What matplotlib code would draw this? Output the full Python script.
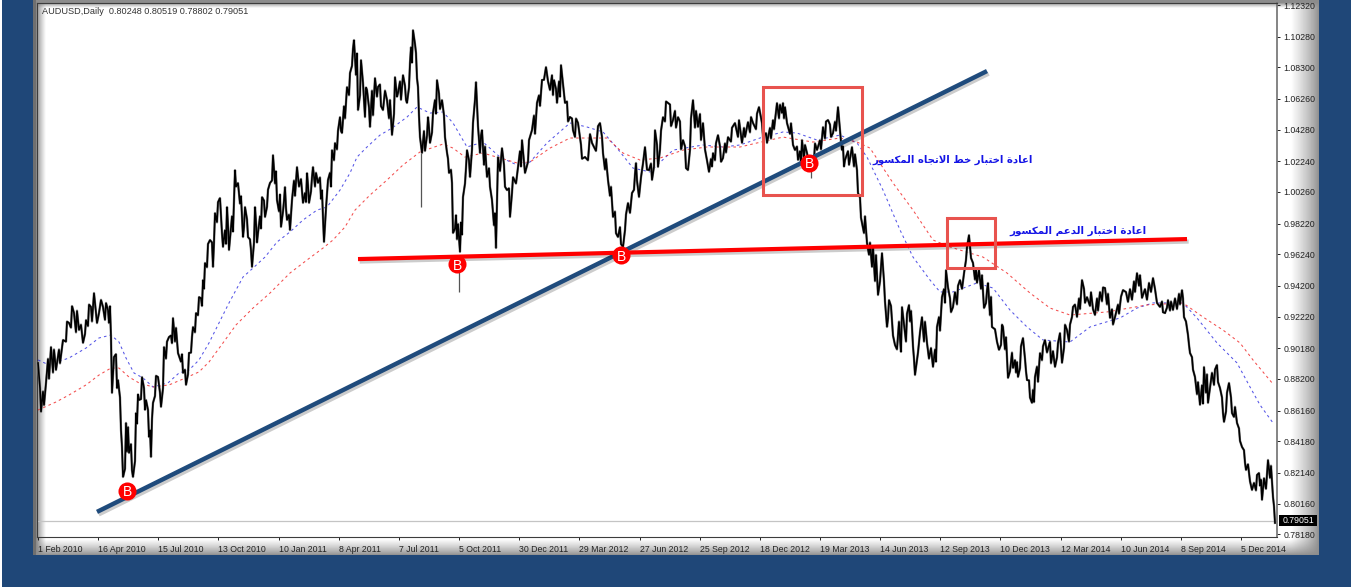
import matplotlib
matplotlib.use("Agg")

import matplotlib.patheffects as pe
import matplotlib.pyplot as plt
import numpy as np
from matplotlib.patches import Rectangle

# price path (bar number, price)
pivot_bar = [38, 41, 46, 51, 56, 63, 69, 74, 79, 83, 86, 91, 94, 99, 103, 108, 111, 112, 114, 118, 121, 123, 126, 129, 133, 136, 139, 142, 146, 149, 151, 153, 158, 161, 164, 169, 173, 178, 183, 186, 189, 193, 196, 199,
             203, 205, 210, 213, 215, 220, 223, 227, 229, 235, 238, 243, 245, 248, 252, 255, 258, 262, 265, 270, 273, 277, 281, 285, 287, 292, 297, 303, 307, 309, 313, 318, 322, 324, 328, 332, 335, 340, 342, 347, 350, 354, 358, 361, 365, 367, 370, 375, 378, 383, 387, 392, 395, 398, 403, 407, 410, 413, 416, 418, 420, 422,
             428, 430, 433, 437, 442, 445, 449, 452, 453, 456, 460, 463, 467, 470, 473, 476, 480, 482, 487, 492, 496, 498, 502, 507, 510, 513, 518, 522, 525, 532, 537, 542, 546, 550, 554, 557, 561, 565, 570, 573, 578, 585, 592, 600, 603, 608, 613, 618, 623, 628, 632, 636, 639, 645, 649,
             652, 655, 658, 663, 668, 673, 678, 683, 688, 693, 698, 703, 709, 713, 718, 723, 728, 735, 742, 748, 753, 759, 766, 767, 777, 782, 785, 787, 795, 798, 802, 807, 811, 817, 823, 828, 833, 838, 842, 845, 852, 857, 858, 862, 867, 872, 873, 878,
             882, 887, 889, 895, 901, 902, 909, 912, 915, 922, 927, 933, 937, 942, 946, 953, 960, 966, 969, 973, 977, 979, 984, 988, 992, 999, 1003, 1008, 1015, 1018, 1023, 1027, 1032, 1035, 1040, 1045, 1055, 1060, 1062, 1067,
             1073, 1077, 1082, 1087, 1095, 1100, 1105, 1110, 1115, 1123, 1128, 1137, 1142, 1153, 1160, 1165, 1168, 1173, 1182, 1184, 1188, 1190, 1195, 1200, 1204, 1208, 1217, 1220, 1224, 1229, 1234, 1237, 1242, 1246, 1252, 1259, 1262, 1268, 1273, 1275]
pivot_val = [.8923, .8607, .8794, .9026, .8877, .9071, .9181, .9245, .9135, .9052, .9200, .9284, .9374, .9245, .9284, .9264, .9090, .8729, .8961, .8813, .8490, .8187, .8536, .8342, .8187, .8600, .8684, .8832, .8684, .8445, .8316, .8665, .8832, .8639, .9026, .9090, .9213, .8987, .8858, .8781, .8987, .9155, .9245, .9348,
             .9458, .9568, .9716, .9542, .9890, .9987, .9671, .9929, .9651, 1.0167, 1.0084, .9735, .9929, .9735, .9542, .9929, .9761, .9993, .9864, 1.0084, 1.0264, .9974, .9800, 1.0058, .9845, .9974, 1.0187, .9955, 1.0148, .9955, 1.0187, 1.0084, 1.0038, .9703, 1.0103, 1.0296, 1.0342, 1.0509, 1.0406, 1.0703, 1.0793, 1.1006, 1.0554, 1.0877, 1.0509, 1.0683, 1.0445, 1.0761, 1.0703, 1.0554, 1.0619, 1.0393, 1.0767, 1.0664, 1.0780, 1.0600, 1.0858, 1.1070, 1.0922, 1.0703, 1.0380, 1.0277,
             1.0509, 1.0342, 1.0535, 1.0748, 1.0619, 1.0380, 1.0148, 1.0084, .9761, .9877, .9639, .9993, 1.0296, 1.0122, 1.0471, 1.0735, 1.0277, 1.0425, 1.0122, .9974, .9664, 1.0251, 1.0309, 1.0038, .9864, 1.0122, 1.0187, 1.0361, 1.0148, 1.0425, 1.0600, 1.0748, 1.0832, 1.0683, 1.0748, 1.0600, 1.0845, 1.0600, 1.0509, 1.0425, 1.0471, 1.0251, 1.0342, 1.0471, 1.0277, 1.0103, .9864, .9735, .9671, .9955, 1.0019, 1.0213, .9993, 1.0316, 1.0167,
             1.0103, 1.0425, 1.0187, 1.0509, 1.0600, 1.0490, 1.0509, 1.0361, 1.0167, 1.0619, 1.0445, 1.0471, 1.0155, 1.0277, 1.0393, 1.0245, 1.0380, 1.0471, 1.0342, 1.0477, 1.0471, 1.0574, 1.0406, 1.0342, 1.0600, 1.0535, 1.0574, 1.0471, 1.0296, 1.0232, 1.0361, 1.0277, 1.0232, 1.0296, 1.0445, 1.0490, 1.0406, 1.0574, 1.0296, 1.0232, 1.0316, 1.0167, 1.0019, .9826, .9697, .9542, .9671, .9361,
             .9632, .9155, .9329, .9039, .8994, .9284, .9297, .9155, .8845, .9219, .9052, .8897, .9155, .9348, .9522, .9284, .9458, .9587, .9748, .9568, .9439, .9522, .9277, .9439, .9155, .9007, .9155, .8826, .8942, .8832, .9084, .8813, .8665, .8832, .8987, .9071, .8897, .9116, .8923, .9135,
             .9284, .9219, .9458, .9348, .9232, .9381, .9406, .9213, .9219, .9393, .9316, .9503, .9342, .9471, .9284, .9245, .9329, .9264, .9393, .9219, .9103, .8987, .8832, .8652, .8897, .8665, .8910, .8761, .8542, .8794, .8574, .8536, .8381, .8232, .8103, .8213, .8039, .8297, .8058, .7891]

# smaller swings between the pivots
swing_bar = [40, 43, 44, 48, 49, 53, 54, 59, 60, 66, 67, 71, 72, 76, 77, 81, 85, 88, 89, 92, 97, 101, 105, 106, 109, 110, 116, 117, 120, 122, 125, 127, 128, 131, 132, 135, 137, 138, 141, 144, 145, 148, 150, 152, 155, 156, 160, 163, 166, 167, 171, 172, 175, 176, 181, 182, 185, 188, 191, 192, 195, 198, 201, 202,
             204, 207, 208, 212, 214, 217, 218, 222, 225, 226, 228, 232, 233, 236, 240, 241, 244, 247, 250, 251, 254, 256, 257, 260, 261, 264, 267, 268, 272, 275, 276, 279, 280, 283, 284, 286, 289, 290, 294, 295, 299, 301, 305, 306, 308, 311, 312, 315, 316, 320, 321, 323, 326, 330, 331, 334, 337, 338, 341, 344, 345, 349, 352, 353, 356, 357, 360, 363, 364, 366, 369, 372, 373, 377, 380, 381, 385, 389, 390, 394, 397, 400, 401, 405, 406, 409, 411, 412, 415, 417, 419,
             424, 425, 427, 429, 432, 435, 436, 439, 440, 444, 447, 448, 451, 455, 457, 458, 461, 462, 465, 466, 469, 472, 475, 478, 481, 484, 485, 489, 490, 494, 495, 497, 500, 504, 505, 509, 512, 516, 520, 521, 524, 528, 529, 534, 535, 539, 540, 544, 548, 552, 553, 556, 559, 560, 563, 567, 568, 572, 575, 576, 581, 582, 588, 590, 596, 598, 602, 605, 606, 610, 611, 615, 616, 620, 621, 625, 626, 630, 634, 635, 637, 641, 643, 647,
             651, 654, 657, 660, 661, 665, 666, 670, 671, 675, 676, 680, 681, 685, 686, 690, 691, 695, 696, 700, 701, 705, 707, 711, 712, 715, 716, 720, 721, 725, 726, 731, 732, 738, 739, 744, 745, 750, 751, 756, 757, 762, 763, 770, 771, 773, 774, 779, 780, 783, 784, 786, 790, 791, 793, 797, 800, 801, 804, 805, 809, 814, 815, 820, 821, 825, 826, 830, 831, 835, 836, 840, 841, 843, 844, 848, 849, 854, 855, 860, 861, 864, 865, 869, 870, 875, 876,
             880, 884, 885, 888, 891, 893, 897, 899, 900, 904, 906, 907, 910, 911, 913, 914, 918, 920, 924, 925, 929, 931, 935, 936, 939, 940, 944, 945, 948, 950, 951, 955, 957, 958, 962, 964, 967, 971, 975, 976, 981, 982, 986, 987, 990, 991, 995, 997, 1001, 1002, 1005, 1006, 1010, 1012, 1013, 1016, 1017, 1020, 1021, 1025, 1026, 1029, 1030, 1033, 1034, 1037, 1038, 1042, 1043, 1047, 1050, 1051, 1053, 1057, 1058, 1061, 1064, 1065, 1069, 1070, 1072, 1075,
             1079, 1080, 1084, 1085, 1090, 1091, 1093, 1097, 1098, 1102, 1103, 1107, 1108, 1112, 1113, 1118, 1119, 1121, 1126, 1130, 1132, 1134, 1135, 1139, 1140, 1145, 1147, 1149, 1151, 1155, 1157, 1162, 1163, 1167, 1170, 1171, 1175, 1177, 1179, 1180, 1183, 1186, 1189, 1192, 1193, 1197, 1198, 1202, 1203, 1206, 1207, 1210, 1212, 1214, 1215, 1218, 1222, 1223, 1226, 1227, 1231, 1232, 1235, 1239, 1240, 1244, 1245, 1248, 1250, 1254, 1256, 1257, 1260, 1261, 1264, 1266, 1270, 1271, 1274]
swing_val = [.8760, .8740, .8650, .8950, .8820, .8860, .9010, .9010, .8920, .9060, .9190, .9150, .9290, .9120, .9260, .9170, .9110, .9160, .9300, .9190, .9180, .9330, .9200, .9310, .9180, .9290, .8980, .8760, .8700, .8380, .8240, .8350, .8510, .8400, .8230, .8290, .8530, .8720, .8690, .8760, .8620, .8620, .8490, .8560, .8710, .8840, .8730, .8760, .8950, .9060, .9100, .9050, .9060, .9150, .8930, .8980, .8880, .8850, .8990, .9090, .9120, .9230, .9340, .9290,
             .9400, .9540, .9690, .9700, .9700, .9830, .9960, .9760, .9780, .9690, .9810, .9870, .9770, 1.0060, .9950, 1.0000, .9800, .9850, .9720, .9650, .9700, .9830, .9700, .9870, .9790, .9970, .9930, 1.0040, 1.0100, 1.0080, 1.0160, .9900, 1.0010, .9900, .9970, .9920, .9880, .9780, 1.0100, 1.0000, 1.0060, 1.0110, 1.0020, .9960, 1.0070, 1.0030, 1.0120, 1.0060, 1.0150, 1.0120, .9980, .9860, .9920, 1.0150, 1.0060, 1.0230, 1.0300, 1.0420, 1.0420, 1.0580, 1.0500, 1.0650, 1.0840, 1.0950, 1.0780, 1.0920, 1.0650, 1.0730, 1.0620, 1.0700, 1.0570, 1.0680, 1.0520, 1.0640, 1.0720, 1.0580, 1.0680, 1.0500, 1.0620, 1.0530, 1.0640, 1.0740, 1.0620, 1.0710, 1.0620, 1.0700, 1.0960, 1.0860, 1.0980, 1.0760, 1.0520,
             1.0420, 1.0290, 1.0390, 1.0440, 1.0410, 1.0620, 1.0530, 1.0660, 1.0560, 1.0520, 1.0280, 1.0240, 1.0170, .9790, .9720, .9820, .9830, .9750, 1.0080, 1.0180, 1.0230, 1.0300, 1.0620, 1.0450, 1.0390, 1.0200, 1.0320, 1.0180, 1.0060, .9810, .9890, .9960, 1.0160, 1.0200, 1.0060, 1.0050, 1.0020, 1.0080, 1.0290, 1.0190, 1.0220, 1.0220, 1.0360, 1.0520, 1.0400, 1.0650, 1.0580, 1.0750, 1.0740, 1.0780, 1.0650, 1.0690, 1.0740, 1.0640, 1.0720, 1.0610, 1.0480, 1.0500, 1.0380, 1.0500, 1.0330, 1.0240, 1.0230, 1.0400, 1.0290, 1.0450, 1.0380, 1.0170, 1.0240, 1.0000, 1.0060, .9900, .9760, .9800, .9690, .9780, .9880, .9890, 1.0040, 1.0140, 1.0100, 1.0120, 1.0210, 1.0170,
             1.0210, 1.0190, 1.0330, 1.0300, 1.0420, 1.0480, 1.0610, 1.0590, 1.0450, 1.0550, 1.0440, 1.0480, 1.0300, 1.0320, 1.0180, 1.0300, 1.0500, 1.0440, 1.0550, 1.0530, 1.0360, 1.0300, 1.0230, 1.0240, 1.0190, 1.0230, 1.0340, 1.0320, 1.0220, 1.0340, 1.0280, 1.0350, 1.0440, 1.0380, 1.0490, 1.0440, 1.0380, 1.0410, 1.0510, 1.0430, 1.0530, 1.0470, 1.0380, 1.0440, 1.0370, 1.0490, 1.0430, 1.0500, 1.0590, 1.0600, 1.0500, 1.0520, 1.0400, 1.0470, 1.0330, 1.0320, 1.0290, 1.0210, 1.0240, 1.0330, 1.0210, 1.0230, 1.0340, 1.0360, 1.0300, 1.0370, 1.0480, 1.0460, 1.0380, 1.0480, 1.0420, 1.0420, 1.0350, 1.0320, 1.0190, 1.0290, 1.0200, 1.0190, 1.0270, .9990, .9860, .9760, .9870, .9620, .9700, .9450, .9620,
             .9450, .9450, .9320, .9210, .9290, .9100, .9010, .9190, .9080, .9170, .9060, .9240, .9190, .9260, .9030, .8950, .8990, .9120, .9060, .9190, .8950, .9020, .9010, .8930, .9220, .9130, .9400, .9310, .9410, .9340, .9250, .9380, .9300, .9420, .9400, .9500, .9670, .9600, .9460, .9530, .9400, .9490, .9310, .9390, .9230, .9350, .9140, .9060, .9040, .9170, .9010, .9090, .8870, .8990, .8890, .8860, .8930, .8890, .9030, .8950, .8870, .8810, .8700, .8750, .8670, .8900, .8800, .8940, .9030, .8990, .9060, .8920, .9000, .8960, .9050, .9020, .9020, .9170, .9060, .9170, .9220, .9300,
             .9340, .9270, .9400, .9310, .9290, .9380, .9270, .9340, .9260, .9320, .9410, .9300, .9370, .9270, .9170, .9300, .9240, .9350, .9380, .9400, .9330, .9450, .9380, .9420, .9490, .9400, .9330, .9440, .9380, .9400, .9310, .9320, .9250, .9280, .9260, .9320, .9340, .9270, .9370, .9300, .9340, .9190, .9040, .8960, .8880, .8720, .8800, .8780, .8660, .8730, .8850, .8760, .8860, .8780, .8880, .8800, .8700, .8600, .8610, .8730, .8700, .8600, .8640, .8500, .8420, .8360, .8280, .8270, .8160, .8150, .8100, .8200, .8130, .8170, .8180, .8110, .8180, .8260, .8000]

# long wicks that stick out of the path
wick_bar = [421, 459, 811]
wick_high = [1.0277, .9587, 1.0264]
wick_low = [.9929, .9381, 1.0116]

# moving averages
fast_bar = [38, 49, 69, 86, 99, 111, 119, 126, 134, 143, 153, 168, 179, 189, 199, 209, 219, 229, 243, 253, 265, 277, 290, 303, 317, 327, 340, 350, 357, 367, 380, 392, 407, 417, 430, 443, 453, 467, 483, 500, 517, 530, 547, 570, 587, 603, 617, 633, 650, 673, 703, 723, 740, 760, 783, 797, 817, 840, 857, 867, 883, 900, 913, 930, 940, 953, 977, 993, 1010, 1027, 1043, 1070, 1090, 1103, 1120, 1137, 1153, 1183, 1197, 1217, 1237, 1250, 1260, 1273]
fast_val = [.8942, .8910, .8955, .9019, .9084, .9103, .9058, .8955, .8858, .8826, .8768, .8794, .8858, .8877, .8942, .9052, .9181, .9310, .9477, .9535, .9606, .9703, .9768, .9845, .9909, .9929, 1.0038, 1.0148, 1.0251, 1.0316, 1.0393, 1.0438, 1.0509, 1.0574, 1.0535, 1.0542, 1.0471, 1.0316, 1.0348, 1.0251, 1.0200, 1.0219, 1.0342, 1.0471, 1.0445, 1.0413, 1.0309, 1.0180, 1.0155, 1.0296, 1.0329, 1.0316, 1.0329, 1.0374, 1.0413, 1.0406, 1.0361, 1.0393, 1.0342, 1.0251, 1.0038, .9781, .9606, .9458, .9381, .9381, .9439, .9406, .9264, .9155, .9071, .9058, .9155, .9181, .9213, .9277, .9310, .9310, .9213, .9052, .8923, .8768, .8652, .8536]
slow_bar = [38, 56, 69, 86, 99, 111, 119, 129, 139, 153, 169, 183, 199, 209, 223, 236, 253, 270, 290, 307, 323, 333, 345, 355, 370, 387, 403, 420, 443, 453, 465, 483, 500, 517, 530, 550, 570, 590, 607, 623, 640, 660, 683, 707, 740, 757, 783, 813, 840, 857, 870, 893, 913, 933, 950, 983, 1007, 1030, 1050, 1070, 1107, 1147, 1183, 1203, 1223, 1240, 1253, 1273]
slow_val = [.8619, .8671, .8716, .8781, .8845, .8890, .8890, .8832, .8794, .8768, .8781, .8819, .8865, .8929, .9052, .9168, .9277, .9374, .9503, .9587, .9664, .9716, .9800, .9909, 1.0006, 1.0103, 1.0200, 1.0284, 1.0335, 1.0309, 1.0251, 1.0277, 1.0245, 1.0213, 1.0219, 1.0309, 1.0374, 1.0374, 1.0374, 1.0277, 1.0232, 1.0245, 1.0296, 1.0316, 1.0316, 1.0342, 1.0380, 1.0348, 1.0374, 1.0348, 1.0309, 1.0084, .9909, .9716, .9671, .9606, .9503, .9374, .9277, .9232, .9252, .9297, .9310, .9219, .9135, .9052, .8942, .8787]

# axis labels
date_bars = [38, 98, 158, 218, 279, 339, 399, 459, 519, 579, 640, 700, 760, 820, 880, 940, 1000, 1061, 1121, 1181, 1241]
date_labels = ["1 Feb 2010", "16 Apr 2010", "15 Jul 2010", "13 Oct 2010", "10 Jan 2011", "8 Apr 2011", "7 Jul 2011", "5 Oct 2011", "30 Dec 2011", "29 Mar 2012", "27 Jun 2012", "25 Sep 2012", "18 Dec 2012", "19 Mar 2013", "14 Jun 2013", "12 Sep 2013", "10 Dec 2013", "12 Mar 2014", "10 Jun 2014", "8 Sep 2014", "5 Dec 2014"]
price_ticks = [1.1232, 1.1028, 1.0830, 1.0626, 1.0428, 1.0224, 1.0026, .9822, .9624, .9420, .9222, .9018, .8820, .8616, .8418, .8214, .8016, .7818]
last_price = 0.79051

# drawn annotations
trend_bar = [97, 987]
trend_val = [.7962, 1.0806]
support_bar = [358, 1187]
support_val = [.9593, .9722]
buy_bar = [127, 457, 621, 809]
buy_val = [.8097, .9561, .9619, 1.0213]

NAVY = "#1f4778"
W, H = 1354, 587
LABEL_FONT = "Liberation Sans"

# arabic letters: isolated, final, initial, medial
FORMS = {
    "ا": (0xFE8D, 0xFE8E), "د": (0xFEA9, 0xFEAA), "ة": (0xFE93, 0xFE94),
    "ر": (0xFEAD, 0xFEAE), "و": (0xFEED, 0xFEEE),
    "ع": (0xFEC9, 0xFECA, 0xFECB, 0xFECC), "خ": (0xFEA5, 0xFEA6, 0xFEA7, 0xFEA8),
    "ت": (0xFE95, 0xFE96, 0xFE97, 0xFE98), "ب": (0xFE8F, 0xFE90, 0xFE91, 0xFE92),
    "ط": (0xFEC1, 0xFEC2, 0xFEC3, 0xFEC4), "ل": (0xFEDD, 0xFEDE, 0xFEDF, 0xFEE0),
    "ج": (0xFE9D, 0xFE9E, 0xFE9F, 0xFEA0), "ه": (0xFEE9, 0xFEEA, 0xFEEB, 0xFEEC),
    "م": (0xFEE1, 0xFEE2, 0xFEE3, 0xFEE4), "ك": (0xFED9, 0xFEDA, 0xFEDB, 0xFEDC),
    "س": (0xFEB1, 0xFEB2, 0xFEB3, 0xFEB4),
}


def shape_word(word):
    out = []
    joined = False  # previous letter connects to this one
    i = 0
    while i < len(word):
        ch = word[i]
        forms = FORMS[ch]
        if ch == "ل" and word[i + 1:i + 2] == "ا":
            out.append(chr(0xFEFC if joined else 0xFEFB))
            joined = False
            i += 2
            continue
        next_exists = i + 1 < len(word)
        if len(forms) == 4 and next_exists:
            out.append(chr(forms[3] if joined else forms[2]))
            joined = True
        else:
            out.append(chr(forms[1] if joined else forms[0]))
            joined = False
        i += 1
    return "".join(reversed(out))


def shape(text):
    return " ".join(shape_word(w) for w in reversed(text.split()))


fig = plt.figure(figsize=(W / 100, H / 100), dpi=100, facecolor=NAVY)

# window frame behind the chart, grey at the edges and fading into white
bg = fig.add_axes([0, 0, 1, 1], zorder=0)
px = np.arange(33, 1319) + 0.5
py = np.arange(0, 555) + 0.5
left = np.clip((px - 37) / 9, 0, 1)
right = np.clip((1319 - px) / 28, 0, 1)
bottom = np.clip((555 - py) / 16, 0, 1)
top = np.clip((py - 3) / 5, 0, 1)
shade = np.outer(np.minimum(bottom, top), np.minimum(left, right))
shade = 0.55 + 0.45 * shade ** 0.8
bg.imshow(shade, cmap="gray", vmin=0, vmax=1, extent=(33, 1319, 555, 0), aspect="auto", interpolation="bilinear")
bg.set_xlim(0, W)
bg.set_ylim(H, 0)
bg.axis("off")
bg.add_patch(Rectangle((0, 0), 2, H, color="white", lw=0))
bg.add_patch(Rectangle((1351, 0), 3, H, color="white", lw=0))
bg.add_patch(Rectangle((33, 0), 3, 555, color="#6f6f6f", lw=0))

ax = fig.add_axes([37 / W, 1 - 537 / H, 1240 / W, 534 / H], zorder=1)
ax.patch.set_alpha(0)
ax.set_xlim(37, 1277)
ax.set_ylim(0.7800, 1.1245)

ax.axhline(last_price, color="#c4c4c4", lw=0.9, zorder=1)

ax.plot(fast_bar, fast_val, color="#2a2ae0", lw=0.75, ls=(0, (2.5, 3)), alpha=0.8, zorder=2)
ax.plot(slow_bar, slow_val, color="#f02020", lw=0.75, ls=(0, (2.5, 3)), alpha=0.8, zorder=2)

# merge pivots and swings into one path, by bar
all_bar = np.array(pivot_bar + swing_bar)
all_val = np.array(pivot_val + swing_val)
order = np.argsort(all_bar, kind="stable")
ax.plot(all_bar[order], all_val[order], color="#808080", lw=1.7, zorder=3)
ax.plot(all_bar[order], all_val[order], color="black", lw=1.15, zorder=3, solid_joinstyle="miter")
ax.vlines(wick_bar, wick_low, wick_high, color="#555555", lw=0.9, zorder=3)

shadow = [pe.SimpleLineShadow(offset=(1.2, -1.8), alpha=0.2, shadow_color="black"), pe.Normal()]
ax.plot(trend_bar, trend_val, color="#1f4b7c", lw=3.2, zorder=4, solid_capstyle="butt", path_effects=shadow)
ax.plot(support_bar, support_val, color="#ff0000", lw=3.0, zorder=4, solid_capstyle="butt", path_effects=shadow)

for x0, x1, y0, y1 in [(763, 862, 1.0006, 1.0703), (947, 995, .9535, .9858)]:
    ax.add_patch(Rectangle((x0, y0), x1 - x0, y1 - y0, fill=False, ec="#e8534e", lw=2.2, zorder=5))

ax.plot(buy_bar, buy_val, "o", color="#ff0000", ms=13, mec="none", zorder=6)
for bx, by in zip(buy_bar, buy_val):
    ax.text(bx, by, "B", color="white", fontsize=10, ha="center", va="center_baseline", zorder=7, family=LABEL_FONT)

arabic_1 = shape("اعادة اختبار خط الاتجاه المكسور")
arabic_2 = shape("اعادة اختبار الدعم المكسور")
ax.text(953, 1.0232, arabic_1, color="#1414e6", fontsize=7.3, fontweight="bold", ha="center", va="center", zorder=6, family="DejaVu Sans")
ax.text(1078, .9774, arabic_2, color="#1414e6", fontsize=7.4, fontweight="bold", ha="center", va="center", zorder=6, family="DejaVu Sans")

for side in ("left", "bottom", "right", "top"):
    ax.spines[side].set_color("#3c3c3c")
    ax.spines[side].set_linewidth(0.8)
ax.spines["right"].set_color("#707070")
ax.spines["right"].set_linewidth(1.2)

ax.set_xticks(date_bars)
ax.set_xticklabels(date_labels, ha="left", family=LABEL_FONT)
ax.yaxis.tick_right()
ax.set_yticks(price_ticks)
ax.set_yticklabels([f"{v:.5f}" for v in price_ticks], family=LABEL_FONT)
ax.tick_params(axis="both", labelsize=6.3, length=2.5, width=0.7, color="#222222", labelcolor="#222222", pad=2)
ax.tick_params(axis="x", pad=3)

ax.text(42, 1.1188, "AUDUSD,Daily  0.80248 0.80519 0.78802 0.79051", fontsize=6.6, color="#333333", va="center", ha="left", family=LABEL_FONT)

# last price flag on the right scale
flag_tf = ax.get_yaxis_transform()
ax.add_patch(Rectangle((1.0016, last_price - 0.0035), 0.0306, 0.0070, transform=flag_tf, color="black", lw=0, clip_on=False, zorder=8))
ax.text(1.0048, last_price, f"{last_price:.5f}", transform=flag_tf, fontsize=6.3, color="white", va="center", ha="left",
        clip_on=False, zorder=9, family=LABEL_FONT)

fig.savefig("out.png", dpi=100)
